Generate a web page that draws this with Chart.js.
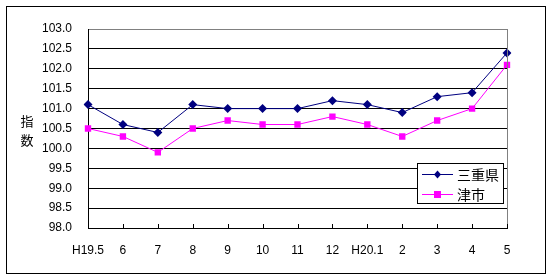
<!DOCTYPE html>
<html>
<head>
<meta charset="utf-8">
<script src="https://cdn.jsdelivr.net/npm/chart.js@4"></script>
<style>
  html, body { margin: 0; padding: 0; background: #fff; }
  #wrap { width: 551px; height: 278px; position: relative; }
</style>
</head>
<body>
<div id="wrap"><canvas id="lineChart" width="551" height="278"></canvas></div>
<script>
// data
const months = ["H19.5", "6", "7", "8", "9", "10", "11", "12", "H20.1", "2", "3", "4", "5"];
const mie = [101.1, 100.6, 100.4, 101.1, 101.0, 101.0, 101.0, 101.2, 101.1, 100.9, 101.3, 101.4, 102.4];
const tsu = [100.5, 100.3, 99.9, 100.5, 100.7, 100.6, 100.6, 100.8, 100.6, 100.3, 100.7, 101.0, 102.1];
const seriesNames = ["三重県", "津市"];
const yTitle = ["指", "数"];

const NUM_FONT = "'Liberation Sans', Arial, sans-serif";
const JP_FONT = "'Noto Sans CJK JP', sans-serif";

// frame, inner ticks, y title and the boxed legend
const extras = {
  id: 'extras',
  beforeDraw(chart) {
    const ctx = chart.ctx;
    ctx.save();
    ctx.fillStyle = '#fff';
    ctx.fillRect(0, 0, chart.width, chart.height);
    ctx.restore();
  },
  afterDraw(chart) {
    const ctx = chart.ctx;
    const a = chart.chartArea;
    const x = chart.scales.x;
    ctx.save();
    // outer border
    ctx.strokeStyle = '#000';
    ctx.lineWidth = 1;
    ctx.strokeRect(6.5, 6.5, 539, 267);
    // right border of plot area
    ctx.strokeStyle = '#808080';
    ctx.beginPath();
    ctx.moveTo(Math.round(a.right) + 0.5, a.top);
    ctx.lineTo(Math.round(a.right) + 0.5, a.bottom);
    ctx.stroke();
    // small tick marks pointing up from the x axis
    ctx.strokeStyle = '#000';
    ctx.beginPath();
    for (let i = 0; i < months.length; i++) {
      const px = Math.round(x.getPixelForValue(i)) + 0.5;
      ctx.moveTo(px, a.bottom);
      ctx.lineTo(px, a.bottom - 4);
    }
    ctx.stroke();
    // y title, stacked
    ctx.fillStyle = '#000';
    ctx.font = '13px ' + JP_FONT;
    ctx.textAlign = 'center';
    ctx.textBaseline = 'middle';
    ctx.fillText(yTitle[0], 27, 121);
    ctx.fillText(yTitle[1], 27, 140);
    // legend
    ctx.fillStyle = '#fff';
    ctx.fillRect(417, 163, 86, 40);
    ctx.strokeStyle = '#000';
    ctx.strokeRect(417.5, 163.5, 86, 40);
    chart.data.datasets.forEach((ds, i) => {
      const cy = 174 + i * 20;
      ctx.strokeStyle = ds.borderColor;
      ctx.lineWidth = 1;
      ctx.beginPath();
      ctx.moveTo(422, cy + 0.5);
      ctx.lineTo(453, cy + 0.5);
      ctx.stroke();
      ctx.fillStyle = ds.backgroundColor;
      if (ds.pointStyle === 'rectRot') {
        ctx.beginPath();
        ctx.moveTo(437.5, cy - 3.5);
        ctx.lineTo(441, cy + 0.5);
        ctx.lineTo(437.5, cy + 4.5);
        ctx.lineTo(434, cy + 0.5);
        ctx.closePath();
        ctx.fill();
      } else {
        ctx.fillRect(434, cy - 3, 7, 7);
      }
      ctx.fillStyle = '#000';
      ctx.font = '14px ' + JP_FONT;
      ctx.textAlign = 'left';
      ctx.fillText(ds.label, 457, cy + 1);
    });
    ctx.restore();
  }
};

const CHART = document.getElementById("lineChart");
let lineChart = new Chart(CHART, {
  type: 'line',
  data: {
    labels: months,
    datasets: [
      {
        label: seriesNames[0],
        data: mie,
        borderColor: '#000080',
        backgroundColor: '#000080',
        borderWidth: 1,
        pointStyle: 'rectRot',
        pointRadius: 4.5,
        pointBorderWidth: 0,
        lineTension: 0
      },
      {
        label: seriesNames[1],
        data: tsu,
        borderColor: '#FF00FF',
        backgroundColor: '#FF00FF',
        borderWidth: 1,
        pointStyle: 'rect',
        pointRadius: 4.5,
        pointBorderWidth: 0,
        lineTension: 0
      }
    ]
  },
  options: {
    responsive: false,
    animation: false,
    layout: { padding: { left: 0, top: 29, right: 44, bottom: 0 } },
    plugins: {
      legend: { display: false },
      tooltip: { enabled: false }
    },
    scales: {
      x: {
        offset: false,
        grid: { display: false, drawTicks: false },
        border: { display: true, color: '#000', width: 1 },
        ticks: {
          color: '#000',
          font: { family: NUM_FONT, size: 12 },
          padding: 15,
          maxRotation: 0,
          autoSkip: false
        },
        afterFit(s) { s.height = 50; }
      },
      y: {
        min: 98,
        max: 103,
        grid: {
          drawTicks: false,
          color: (c) => (c.tick && c.tick.value === 103 ? '#808080' : '#000'),
          lineWidth: 1
        },
        border: { display: true, color: '#000', width: 1 },
        ticks: {
          stepSize: 0.5,
          color: '#000',
          font: { family: NUM_FONT, size: 12 },
          padding: 16,
          callback: (v) => Number(v).toFixed(1)
        },
        afterFit(s) { s.width = 88; }
      }
    }
  },
  plugins: [extras]
});
</script>
</body>
</html>
